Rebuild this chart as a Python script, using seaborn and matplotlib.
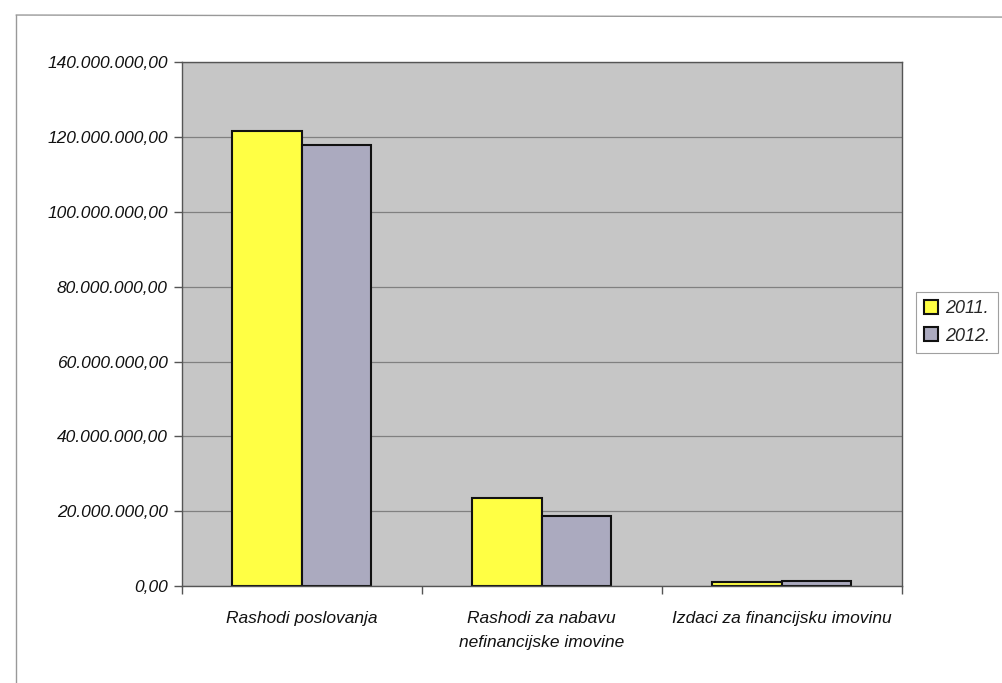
import matplotlib
matplotlib.use("Agg")
import matplotlib.pyplot as plt
import seaborn as sns
import pandas as pd
from matplotlib.ticker import FuncFormatter, FixedLocator
from matplotlib.lines import Line2D

categories = ["Rashodi poslovanja", "Rashodi za nabavu\nnefinancijske imovine", "Izdaci za financijsku imovinu"]
years = ["2011.", "2012."]
values_2011 = [121.6e6, 23.5e6, 1.1e6]
values_2012 = [117.9e6, 18.6e6, 1.3e6]
yticks = [0, 20e6, 40e6, 60e6, 80e6, 100e6, 120e6, 140e6]

df = pd.DataFrame({
    "category": categories * 2,
    "year": [years[0]] * 3 + [years[1]] * 3,
    "value": values_2011 + values_2012,
})

sns.set_theme(style="white")
plt.rcParams['font.family'] = ['Liberation Sans', 'DejaVu Sans']

fig = plt.figure(figsize=(10.03, 6.83), dpi=100)
ax = fig.add_axes([0.181, 0.142, 0.718, 0.767])

palette = {"2011.": "#ffff44", "2012.": "#abaabf"}
sns.barplot(data=df, x="category", y="value", hue="year", palette=palette,
            width=0.58, edgecolor="#111111", linewidth=1.5, saturation=1,
            ax=ax, legend=False)

ax.set_facecolor("#c6c6c6")
ax.set_ylim(0, 140e6)
ax.set_xlim(-0.5, 2.5)
ax.set_yticks(yticks)
def fmt(v, pos):
    s = f"{int(round(v)):,}".replace(",", ".")
    return s + ",00"
ax.yaxis.set_major_formatter(FuncFormatter(fmt))
ax.yaxis.grid(True, color="#808080", linewidth=0.9)
ax.set_axisbelow(True)
ax.set_xlabel("")
ax.set_ylabel("")
ax.xaxis.set_minor_locator(FixedLocator([-0.5, 0.5, 1.5, 2.5]))
ax.tick_params(axis="x", which="major", length=0, pad=18, labelsize=12.5)
ax.tick_params(axis="x", which="minor", length=6, width=1, color="#555555", direction="out", bottom=True)
ax.tick_params(axis="y", which="major", length=6, width=1, color="#555555", direction="out", left=True, labelsize=12.5, pad=4)
for lbl in ax.get_xticklabels():
    lbl.set_linespacing(1.75)
for lbl in ax.get_xticklabels() + ax.get_yticklabels():
    lbl.set_fontstyle("italic")
    lbl.set_color("#111111")
for sp in ax.spines.values():
    sp.set_color("#555555")
    sp.set_linewidth(1.0)

handles = [plt.Rectangle((0, 0), 1, 1, facecolor=palette[y], edgecolor="#111111", linewidth=1.5) for y in years]
leg = fig.legend(handles, years, loc="center left", bbox_to_anchor=(0.913, 0.528),
                 borderaxespad=0.0,
                 frameon=True, fancybox=False, edgecolor="#888888",
                 prop={"style": "italic", "size": 13}, handlelength=0.8, handleheight=0.8,
                 handletextpad=0.35, borderpad=0.45, labelspacing=0.55)
leg.get_frame().set_linewidth(0.8)

# outer chart border (top and left)
fig.add_artist(Line2D([0.016, 1.0], [0.978, 0.975], color="#999999", linewidth=1.0, transform=fig.transFigure))
fig.add_artist(Line2D([0.016, 0.016], [0.978, 0.0], color="#999999", linewidth=1.0, transform=fig.transFigure))

fig.savefig("out.png", dpi=100)
